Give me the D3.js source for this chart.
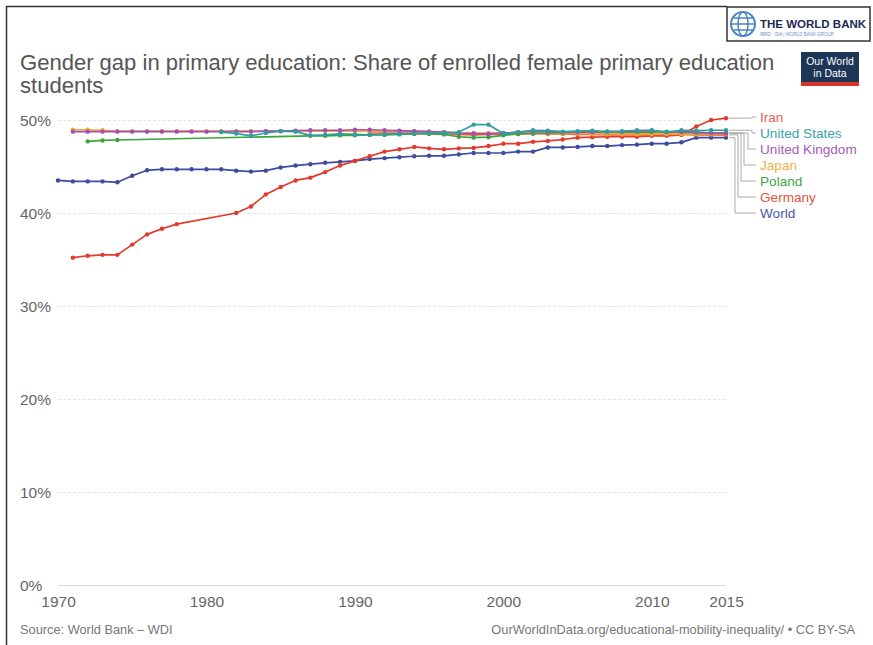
<!DOCTYPE html>
<html><head><meta charset="utf-8">
<script src="https://cdn.jsdelivr.net/npm/d3@7"></script>
<style>
html,body{margin:0;padding:0;background:#fff;}
svg{display:block;font-family:"Liberation Sans",Arial,sans-serif;}
</style></head>
<body><svg id="c" width="873" height="645"></svg>
<script>
// ---------- data ----------
const xTicks = [1970, 1980, 1990, 2000, 2010, 2015];
const yTicks = [0, 10, 20, 30, 40, 50];

const worldYears = d3.range(1970, 2016);
const worldValues = [43.5,43.4,43.4,43.4,43.3,44.0,44.6,44.7,44.7,44.7,
  44.7,44.7,44.55,44.45,44.55,44.9,45.1,45.25,45.4,45.5,
  45.6,45.8,45.9,46.0,46.1,46.15,46.15,46.3,46.45,46.45,
  46.45,46.6,46.6,47.05,47.05,47.1,47.2,47.2,47.3,47.35,
  47.45,47.45,47.6,48.1,48.1,48.1];

const iranYears = [1971,1972,1973,1974,1975,1976,1977,1978].concat(d3.range(1982, 2016));
const iranValues = [35.2,35.4,35.5,35.5,36.6,37.7,38.3,38.8,
  40.0,40.7,42.0,42.8,43.5,43.8,44.4,45.1,
  45.6,46.1,46.6,46.85,47.1,46.95,46.85,46.95,47.0,47.2,
  47.45,47.45,47.65,47.75,47.9,48.1,48.15,48.2,48.2,48.2,
  48.3,48.3,48.4,49.3,50.0,50.2];

const ukYears = d3.range(1971, 2016);
const ukValues = [48.75,48.75,48.75,48.75,48.75,48.75,48.75,48.75,48.75,
  48.75,48.75,48.75,48.75,48.8,48.8,48.85,48.9,48.9,48.9,
  48.95,48.95,48.9,48.85,48.8,48.75,48.7,48.6,48.55,48.5,
  48.6,48.7,48.8,48.75,48.7,48.7,48.7,48.75,48.75,48.8,
  48.85,48.7,48.75,48.7,48.6,48.6];

const usYears = d3.range(1981, 2016);
const usValues = [48.7,48.55,48.3,48.6,48.8,48.75,48.35,48.4,48.5,
  48.45,48.4,48.45,48.5,48.55,48.6,48.6,48.7,49.5,49.5,
  48.55,48.7,48.9,48.85,48.75,48.8,48.85,48.75,48.8,48.9,
  48.9,48.7,48.9,48.85,48.9,48.9];

const japanYears = d3.range(1971, 2016);
const japanValues = [48.95,48.95,48.9,48.8,48.8,48.8,48.8,48.8,48.8,
  48.8,48.8,48.8,48.8,48.8,48.8,48.8,48.8,48.8,48.8,
  48.8,48.8,48.8,48.8,48.8,48.75,48.7,48.6,48.6,48.6,
  48.6,48.6,48.6,48.55,48.55,48.55,48.5,48.5,48.5,48.5,
  48.5,48.5,48.5,48.5,48.5,48.55];

const polandYears = [1972,1973,1974].concat(d3.range(1987, 2016));
const polandValues = [47.7,47.8,47.85,
  48.3,48.3,48.35,
  48.35,48.4,48.4,48.45,48.5,48.5,48.45,48.2,48.1,48.15,
  48.35,48.5,48.55,48.6,48.65,48.7,48.7,48.75,48.7,48.7,
  48.7,48.75,48.7,48.65,48.6,48.6];

const germanyYears = d3.range(1991, 2016);
const germanyValues = [48.6,48.6,48.6,48.6,48.6,48.55,48.45,48.4,48.45,
  48.5,48.5,48.55,48.5,48.5,48.45,48.45,48.4,48.4,48.4,
  48.4,48.4,48.45,48.4,48.4,48.4];

const seriesNames = ["Iran","United States","United Kingdom","Japan","Poland","Germany","World"];
const lineColors  = ["#e23a2c","#2f9e9e","#a44fb5","#f2ab2e","#3aa53a","#e5583a","#3c4c9f"];
const labelColors = ["#e8634f","#3aa3a6","#a55bb7","#f3b13f","#41a641","#e2553d","#4657a6"];

const seriesData = {
  "World":[worldYears, worldValues],
  "Iran":[iranYears, iranValues],
  "Germany":[germanyYears, germanyValues],
  "Japan":[japanYears, japanValues],
  "Poland":[polandYears, polandValues],
  "United Kingdom":[ukYears, ukValues],
  "United States":[usYears, usValues]
};
const drawOrder = ["World","Iran","Germany","Japan","Poland","United Kingdom","United States"];

// ---------- layout ----------
const svg = d3.select("#c");
svg.append("rect").attr("width",873).attr("height",645).attr("fill","#fff");

// frame
svg.append("path").attr("d","M6.5,645 V6.5 H727").attr("fill","none").attr("stroke","#333").attr("stroke-width",1.5);

const x = d3.scaleLinear().domain([1970, 2015]).range([58, 726]);
const y = d3.scaleLinear().domain([0, 50]).range([585, 120]);

// title
const title = svg.append("text").attr("x",20).attr("y",70).attr("fill","#555").attr("font-size",20);
title.append("tspan").attr("x",20).attr("y",70).text("Gender gap in primary education: Share of enrolled female primary education");
title.append("tspan").attr("x",20).attr("y",93).text("students");
const tw = title.select("tspan").node().getComputedTextLength();
title.attr("font-size", 20 * 755 / tw);

// grid + y labels
const yAxis = d3.axisLeft(y).tickValues(yTicks).tickSize(-(726 - 58)).tickFormat(d => d + "%");
const gy = svg.append("g").attr("transform","translate(58,0)").call(yAxis);
gy.select(".domain").remove();
gy.selectAll(".tick line").attr("stroke", d => d === 0 ? "#d8d8d8" : "#e4e4e4")
  .attr("stroke-dasharray", d => d === 0 ? null : "3,2").attr("x1", 0);
gy.selectAll(".tick text").attr("x",-38).attr("text-anchor","start").attr("fill","#666")
  .attr("font-size",15.5).attr("font-family","Liberation Sans, Arial, sans-serif").attr("dy","0.35em");

// x labels
const xAxis = d3.axisBottom(x).tickValues(xTicks).tickSize(0).tickFormat(d3.format("d"));
const gx = svg.append("g").attr("transform","translate(0,596)").call(xAxis);
gx.select(".domain").remove();
gx.selectAll(".tick text").attr("fill","#666").attr("font-size",15.5)
  .attr("font-family","Liberation Sans, Arial, sans-serif").attr("dy","0.71em").attr("y",0);

// lines
const line = d3.line().x(d => x(d[0])).y(d => y(d[1]));
drawOrder.forEach(name => {
  const i = seriesNames.indexOf(name);
  const [yrs, vals] = seriesData[name];
  const pts = yrs.map((yr, k) => [yr, vals[k]]);
  const g = svg.append("g");
  g.append("path").datum(pts).attr("d", line).attr("fill","none")
    .attr("stroke", lineColors[i]).attr("stroke-width",1.7).attr("stroke-linejoin","round");
  g.selectAll("circle").data(pts).join("circle")
    .attr("cx", d => x(d[0])).attr("cy", d => y(d[1])).attr("r",2.2).attr("fill", lineColors[i]);
});

// legend with connectors
const labelY = [117,133,149,165,181,197,213];
const elbowX = [752, 752, 748, 744, 741, 738, 735];
seriesNames.forEach((name, i) => {
  const [yrs, vals] = seriesData[name];
  const endY = y(vals[vals.length - 1]);
  const ly = labelY[i];
  svg.append("path")
    .attr("d", `M729,${endY} H${elbowX[i]} V${ly} H756`)
    .attr("fill","none").attr("stroke","#aaa").attr("stroke-width",1);
  svg.append("text").attr("x",760).attr("y",ly).attr("dy","0.35em")
    .attr("font-size",13.6).attr("fill",labelColors[i]).text(name);
});

// footer
svg.append("text").attr("x",20).attr("y",634).attr("font-size",12.8).attr("fill","#777").text("Source: World Bank \u2013 WDI");
svg.append("text").attr("x",855).attr("y",634).attr("text-anchor","end").attr("font-size",12.8).attr("fill","#777")
  .text("OurWorldInData.org/educational-mobility-inequality/ \u2022 CC BY-SA");

// World Bank logo box
const wb = svg.append("g");
wb.append("rect").attr("x",727).attr("y",7).attr("width",143).attr("height",34).attr("fill","#fff").attr("stroke","#333").attr("stroke-width",1.5);
const gc = wb.append("g").attr("transform","translate(743,24)");
gc.append("circle").attr("r",12).attr("fill","none").attr("stroke","#4a86c0").attr("stroke-width",2);
gc.append("ellipse").attr("rx",5).attr("ry",12).attr("fill","none").attr("stroke","#4a86c0").attr("stroke-width",1.5);
gc.append("path").attr("d","M-12,0 H12 M-10,-6 H10 M-10,6 H10").attr("stroke","#4a86c0").attr("stroke-width",1.3);
wb.append("text").attr("x",760).attr("y",28).attr("font-size",11.5).attr("font-weight","bold").attr("fill","#1d2b52").text("THE WORLD BANK");
wb.append("text").attr("x",760).attr("y",36).attr("font-size",4.5).attr("fill","#6a8fbf").text("IBRD \u00b7 IDA  |  WORLD BANK GROUP");

// OWID logo
const ow = svg.append("g");
ow.append("rect").attr("x",801).attr("y",52).attr("width",58).attr("height",34).attr("fill","#1d3557");
ow.append("rect").attr("x",801).attr("y",82).attr("width",58).attr("height",4).attr("fill","#d73527");
ow.append("text").attr("x",830).attr("y",65).attr("text-anchor","middle").attr("font-size",10.5).attr("fill","#fff").text("Our World");
ow.append("text").attr("x",830).attr("y",77).attr("text-anchor","middle").attr("font-size",10.5).attr("fill","#fff").text("in Data");
</script></body></html>
